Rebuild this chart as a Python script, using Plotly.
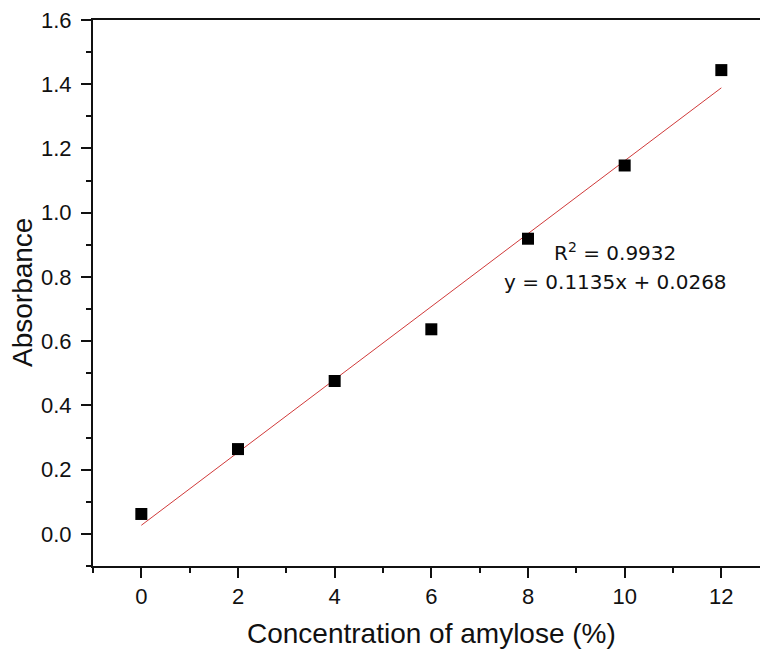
import plotly.graph_objects as go

# Data
conc = [0, 2, 4, 6, 8, 10, 12]
absorbance = [0.062, 0.264, 0.476, 0.637, 0.919, 1.147, 1.444]
fit_slope = 0.1135
fit_intercept = 0.0268
fit_x = [0, 12]
r2_text = "R<sup>2</sup> = 0.9932"
eq_text = "y = 0.1135x + 0.0268"
x_title = "Concentration of amylose (%)"
y_title = "Absorbance"

fit_y = [fit_slope * x + fit_intercept for x in fit_x]

fig = go.Figure()
fig.add_trace(go.Scatter(x=fit_x, y=fit_y, mode="lines",
                         line=dict(color="#d03a3a", width=1), showlegend=False,
                         hoverinfo="skip"))
fig.add_trace(go.Scatter(x=conc, y=absorbance, mode="markers",
                         marker=dict(symbol="square", size=12, color="black"),
                         showlegend=False))

tickfont = dict(family="Liberation Sans, Arial, sans-serif", size=22, color="#111")

fig.update_layout(
    width=760, height=649,
    margin=dict(l=93, r=0, t=20, b=83),
    paper_bgcolor="white", plot_bgcolor="white",
    font=dict(family="Liberation Sans, Arial, sans-serif", color="#111"),
    xaxis=dict(range=[-1, 12.8], tick0=0, dtick=2, ticks="outside", ticklen=10,
               tickwidth=2, tickcolor="#111", showline=True, linewidth=2,
               linecolor="#111", mirror=True, showgrid=False, zeroline=False,
               tickfont=tickfont, ticklabelstandoff=0,
               minor=dict(dtick=1, ticks="outside", ticklen=5, tickwidth=2,
                          tickcolor="#111", showgrid=False)),
    yaxis=dict(range=[-0.1, 1.6], tick0=0, dtick=0.2, tickformat=".1f",
               ticks="outside", ticklen=10, tickwidth=2, tickcolor="#111",
               showline=True, linewidth=2, linecolor="#111", showgrid=False,
               zeroline=False, tickfont=tickfont, ticklabelstandoff=5,
               minor=dict(dtick=0.1, ticks="outside", ticklen=5, tickwidth=2,
                          tickcolor="#111", showgrid=False)),
)

title_font = dict(family="Liberation Sans, Arial, sans-serif", size=28, color="#111")
fig.add_annotation(x=6, xref="x", y=(566 - 633) / (566 - 20), yref="paper",
                   yanchor="middle", text=x_title, showarrow=False, font=title_font)
fig.add_annotation(x=(22 - 93) / 667, xref="paper", y=0.5, yref="paper",
                   textangle=-90, text=y_title, showarrow=False, xanchor="center",
                   yanchor="middle", font=title_font)

ann_font = dict(family="DejaVu Sans, Verdana, sans-serif", size=20, color="#111")
fig.add_annotation(x=9.81, y=0.877, xref="x", yref="y", text=r2_text,
                   showarrow=False, font=ann_font, yanchor="middle")
fig.add_annotation(x=9.81, y=0.783, xref="x", yref="y", text=eq_text,
                   showarrow=False, font=ann_font, yanchor="middle")

fig.write_html("out.html")
